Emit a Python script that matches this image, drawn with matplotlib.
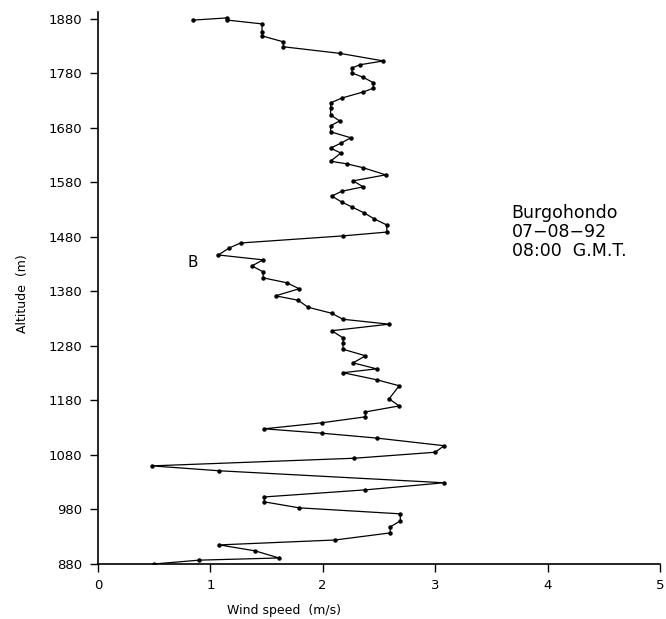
import numpy as np
import matplotlib.pyplot as plt

# wind speed profile (m/s) against altitude (m), sounding from the ground up
speed = [0.50, 0.90, 1.61, 1.40, 1.08, 2.11, 2.60, 2.60, 2.69, 2.69,
         1.79, 1.48, 1.48, 2.38, 3.08, 1.08, 0.48, 2.28, 3.00, 3.08,
         2.48, 1.99, 1.48, 1.99, 2.38, 2.38, 2.68, 2.59, 2.68, 2.48,
         2.18, 2.48, 2.27, 2.38, 2.18, 2.18, 2.18, 2.08, 2.59, 2.18,
         2.08, 1.87, 1.78, 1.58, 1.79, 1.68, 1.47, 1.47, 1.37, 1.47,
         1.07, 1.17, 1.27, 2.18, 2.57, 2.57, 2.46, 2.37, 2.26, 2.17,
         2.08, 2.17, 2.36, 2.27, 2.56, 2.36, 2.22, 2.07, 2.16, 2.07,
         2.16, 2.25, 2.07, 2.07, 2.15, 2.07, 2.07, 2.07, 2.17, 2.36,
         2.45, 2.45, 2.36, 2.26, 2.26, 2.33, 2.54, 2.15, 1.65, 1.65,
         1.46, 1.46, 1.46, 1.15, 1.15, 0.85]
altitude = [880, 887, 891, 904, 915, 924, 937, 948, 959, 972,
            983, 994, 1003, 1016, 1029, 1051, 1060, 1074, 1085, 1097,
            1111, 1120, 1128, 1139, 1150, 1159, 1170, 1183, 1207, 1218,
            1231, 1238, 1249, 1262, 1274, 1286, 1295, 1308, 1320, 1329,
            1340, 1351, 1364, 1372, 1385, 1396, 1405, 1416, 1427, 1438,
            1447, 1460, 1469, 1482, 1489, 1502, 1513, 1524, 1535, 1544,
            1555, 1564, 1572, 1583, 1594, 1607, 1614, 1619, 1634, 1643,
            1652, 1662, 1673, 1684, 1693, 1704, 1717, 1726, 1735, 1746,
            1753, 1763, 1773, 1781, 1790, 1796, 1803, 1817, 1829, 1838,
            1849, 1856, 1871, 1878, 1882, 1878]

xticks = [0, 1, 2, 3, 4, 5]
yticks = list(range(880, 1881, 100))

fig = plt.figure(figsize=(6.66, 6.19), dpi=100)
ax = fig.add_axes([0.147, 0.0889, 0.844, 0.891])

ax.plot(speed, altitude, color='black', lw=0.9, marker='o', ms=2.2)

ax.set_xlim(0, 5)
ax.set_ylim(880, 1892)
ax.set_xticks(xticks)
ax.set_yticks(yticks)
ax.tick_params(direction='out', length=6, width=1, labelsize=9.5, pad=5)

for s in ['top', 'right']:
    ax.spines[s].set_visible(False)
for s in ['left', 'bottom']:
    ax.spines[s].set_linewidth(1.2)

ax.set_xlabel('Wind speed  (m/s)', fontsize=9)
ax.xaxis.set_label_coords(0.331, -0.072)
ax.set_ylabel('Altitude  (m)', fontsize=9)
ax.yaxis.set_label_coords(-0.122, 0.49)

ax.text(0.84, 1434, 'B', fontsize=11, ha='center', va='center')
ax.text(3.68, 1489, 'Burgohondo\n07\u221208\u221292\n08:00  G.M.T.',
        fontsize=12.5, ha='left', va='center', linespacing=1.1)

fig.savefig('out.png', dpi=100)
